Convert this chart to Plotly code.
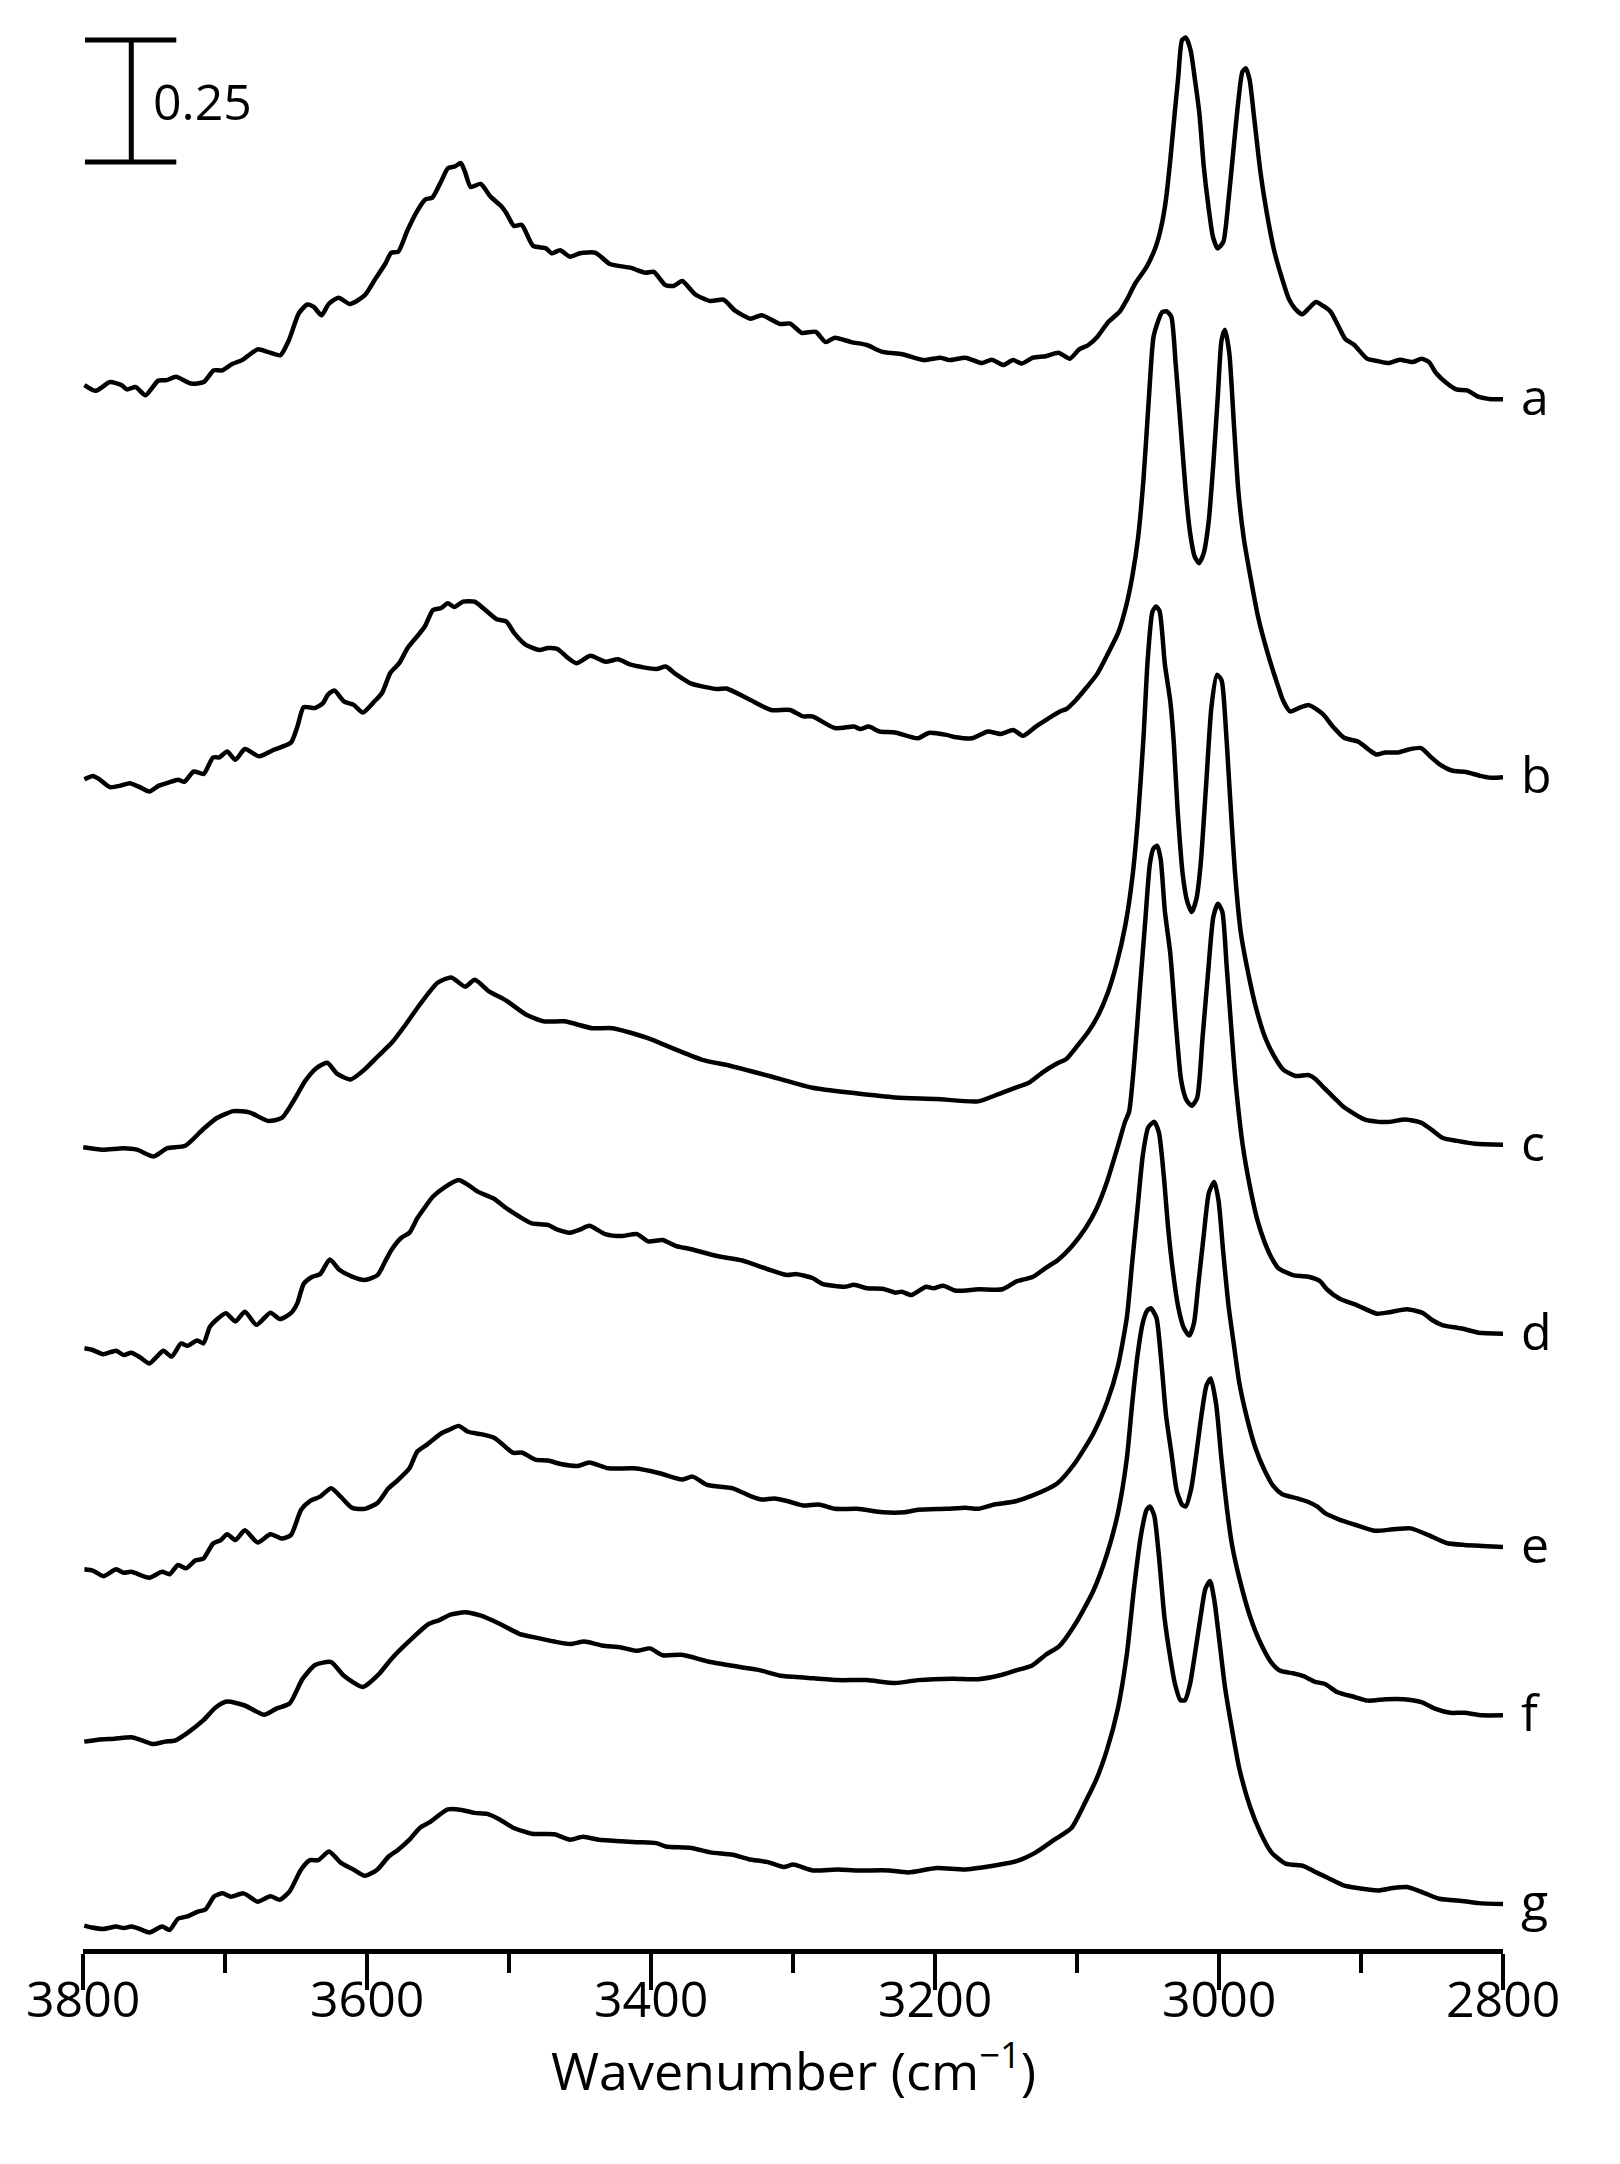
import plotly.graph_objects as go

# ---------------- data (wavenumber in cm^-1, absorbance relative to each trace's 2800 end) ----------------
labels = ["a", "b", "c", "d", "e", "f", "g"]
offsets = [3.176, 2.401, 1.648, 1.261, 0.824, 0.479, 0.092]

wn_a = [3799, 3791, 3781, 3773, 3769, 3763, 3756, 3747, 3741, 3734.5, 3724, 3715, 3708, 3702, 3695, 3688, 3677, 3670, 3661, 3655,
        3648, 3642, 3637.5, 3632, 3627, 3620, 3612, 3601.5, 3594, 3587, 3583, 3578, 3571.5, 3565, 3559, 3554, 3548, 3543, 3538, 3534,
        3531, 3527, 3520, 3513, 3505, 3502, 3496.5, 3491, 3483, 3474, 3470, 3464, 3457, 3450, 3439, 3429, 3414, 3404, 3398, 3390,
        3384, 3378, 3369, 3358, 3349, 3341, 3330, 3322, 3309, 3302, 3294, 3284, 3277, 3270.5, 3259, 3248, 3237, 3223, 3208, 3196,
        3190, 3178.5, 3167, 3160, 3152, 3145, 3139, 3131, 3122, 3113, 3105, 3098.5, 3092, 3085.6, 3078, 3070, 3065, 3059, 3051,
        3044.6, 3040.7, 3037.4, 3034.3, 3031, 3028.7, 3026, 3023.3, 3020, 3016.9, 3013.8, 3010.7, 3007.4, 3004.3, 3001, 2997,
        2993.3, 2989.4, 2986.3, 2983.5, 2981, 2978.4, 2975.3, 2970.7, 2966.3, 2961.2, 2956, 2950.9, 2946.6, 2941.4, 2936.8,
        2931.7, 2926.6, 2921.4, 2916.3, 2911.2, 2904.7, 2895.8, 2888, 2880.4, 2872.7, 2863.7, 2857.3, 2852.1, 2847, 2839.3,
        2832.9, 2825.2, 2817.5, 2808.5, 2800]
ab_a = [0.029, 0.017, 0.035, 0.029, 0.020, 0.025, 0.008, 0.038, 0.039, 0.046, 0.032, 0.035, 0.059, 0.059, 0.072, 0.080, 0.102, 0.097, 0.090, 0.121,
        0.176, 0.194, 0.189, 0.172, 0.195, 0.208, 0.195, 0.213, 0.247, 0.278, 0.300, 0.302, 0.346, 0.384, 0.409, 0.413, 0.445, 0.473, 0.477, 0.484,
        0.466, 0.435, 0.441, 0.415, 0.394, 0.382, 0.355, 0.357, 0.314, 0.309, 0.299, 0.305, 0.292, 0.299, 0.300, 0.277, 0.269, 0.259, 0.261, 0.234,
        0.232, 0.242, 0.215, 0.201, 0.204, 0.182, 0.165, 0.172, 0.154, 0.155, 0.136, 0.138, 0.117, 0.126, 0.117, 0.111, 0.097, 0.092, 0.080, 0.085,
        0.080, 0.085, 0.074, 0.081, 0.070, 0.080, 0.073, 0.085, 0.088, 0.095, 0.083, 0.102, 0.111, 0.128, 0.158, 0.179, 0.203, 0.237, 0.271,
        0.312, 0.353, 0.408, 0.490, 0.592, 0.660, 0.736, 0.741, 0.715, 0.654, 0.585, 0.476, 0.394, 0.333, 0.309, 0.322,
        0.408, 0.524, 0.613, 0.671, 0.678, 0.654, 0.578, 0.463, 0.381, 0.305, 0.251, 0.206, 0.186, 0.174, 0.186,
        0.199, 0.191, 0.179, 0.152, 0.124, 0.111, 0.083, 0.078, 0.074, 0.081, 0.076, 0.083, 0.076, 0.053, 0.032,
        0.020, 0.018, 0.005, 0.000, 0.000]

wn_b = [3799, 3793, 3788.4, 3781, 3773.5, 3767, 3760, 3753.3, 3746.6, 3740, 3733, 3728.6, 3722, 3715, 3708.4, 3704, 3698.5, 3692.7, 3686, 3676,
        3666, 3653.6, 3649, 3644.6, 3636.6, 3631, 3627.6, 3623, 3616, 3609.6, 3602.9, 3595, 3589.4, 3583.6, 3577.3, 3571.4, 3563.8, 3559.3, 3553.5,
        3547.7, 3543.2, 3538.6, 3532.4, 3524.3, 3517.5, 3508.6, 3501.8, 3496.4, 3488.4, 3478.5, 3472.6, 3465.9, 3459, 3452.4, 3442.6, 3432, 3423.2,
        3414.3, 3396.3, 3389.6, 3382.8, 3371.6, 3353.6, 3346.9, 3331, 3315.4, 3302, 3293, 3286.3, 3270.5, 3257, 3252.6, 3246.7, 3239, 3228, 3212,
        3204.5, 3192, 3185, 3174, 3162.8, 3153.8, 3144.8, 3138, 3129, 3120, 3112, 3107.5, 3101.2, 3093.6, 3086, 3078.5, 3070.9, 3065.4, 3060.8,
        3057, 3053.2, 3049.5, 3046.2, 3043.1, 3040.1, 3036.8, 3033.6, 3030.5, 3026.7, 3023.5, 3020.4, 3017.2, 3014.1, 3010.8, 3007.3, 3004,
        3000.8, 2998.2, 2995.7, 2992.7, 2989.6, 2986.4, 2982.6, 2977.5, 2972.5, 2966.2, 2959.9, 2954.8, 2949.8, 2944.7, 2936.6, 2927, 2919.5,
        2911.9, 2901.8, 2894.2, 2889.2, 2882.9, 2874, 2866.5, 2857.6, 2851.3, 2843.8, 2836.2, 2826.1, 2816, 2808.4, 2800]
ab_b = [-0.004, 0.003, -0.004, -0.020, -0.017, -0.012, -0.020, -0.029, -0.017, -0.011, -0.005, -0.009, 0.012, 0.007, 0.041, 0.041, 0.053, 0.036, 0.058, 0.043,
        0.056, 0.071, 0.104, 0.144, 0.142, 0.152, 0.169, 0.178, 0.155, 0.149, 0.133, 0.155, 0.173, 0.214, 0.234, 0.265, 0.292, 0.309, 0.343,
        0.347, 0.357, 0.349, 0.360, 0.360, 0.345, 0.324, 0.319, 0.296, 0.272, 0.261, 0.265, 0.263, 0.246, 0.234, 0.249, 0.237, 0.242,
        0.231, 0.222, 0.227, 0.212, 0.192, 0.181, 0.182, 0.160, 0.138, 0.138, 0.125, 0.125, 0.101, 0.104, 0.099, 0.104, 0.094, 0.092, 0.080,
        0.091, 0.087, 0.082, 0.080, 0.094, 0.089, 0.097, 0.085, 0.104, 0.121, 0.135, 0.140, 0.157, 0.183, 0.211, 0.252, 0.297, 0.351, 0.416,
        0.491, 0.610, 0.772, 0.901, 0.933, 0.953, 0.955, 0.944, 0.847, 0.707, 0.588, 0.502, 0.453, 0.439, 0.459, 0.523, 0.642,
        0.782, 0.896, 0.917, 0.868, 0.728, 0.588, 0.491, 0.405, 0.329, 0.259, 0.200, 0.157, 0.135, 0.141, 0.148, 0.130, 0.103,
        0.081, 0.073, 0.056, 0.047, 0.051, 0.051, 0.057, 0.060, 0.043, 0.025, 0.014, 0.011, 0.003, -0.001, 0.000]

wn_c = [3799.8, 3786.2, 3771.7, 3762, 3750.3, 3740.6, 3728, 3715.4, 3705.7, 3694, 3682.4, 3669.7, 3660, 3650.3, 3643.5, 3635.7, 3628, 3621.2,
        3611.5, 3601.8, 3592.1, 3582.3, 3572.6, 3562.9, 3550.3, 3540.6, 3530.9, 3524.1, 3514.4, 3501.7, 3488.1, 3475.5, 3461, 3441.5, 3427,
        3402.7, 3383.3, 3363.9, 3344.5, 3315.4, 3286.3, 3257.1, 3228, 3198.9, 3169.8, 3154.2, 3144.1, 3134, 3123.9, 3113.8, 3107.5, 3100,
        3092.4, 3084.8, 3078.5, 3072.2, 3065.9, 3060.8, 3057, 3053.2, 3050.2, 3046.9, 3044.4, 3041.9, 3038.1, 3034.3, 3031.8, 3029.3, 3025.5,
        3022.4, 3019.2, 3015.9, 3012.9, 3009.1, 3005.3, 3001.5, 2998.2, 2995.7, 2992.7, 2988.9, 2984.6, 2978.8, 2973.7, 2967.4, 2961.1,
        2954.8, 2946, 2937.1, 2932.1, 2925.8, 2917, 2912.8, 2897.7, 2887.6, 2880.1, 2868.7, 2857.4, 2849.9, 2842.3, 2832.3, 2819.7, 2800]
ab_c = [-0.005, -0.010, -0.007, -0.010, -0.024, -0.007, -0.002, 0.032, 0.055, 0.069, 0.066, 0.049, 0.055, 0.097, 0.131, 0.157, 0.168, 0.146,
        0.134, 0.154, 0.182, 0.210, 0.247, 0.287, 0.332, 0.343, 0.324, 0.338, 0.315, 0.295, 0.267, 0.253, 0.253, 0.239, 0.239,
        0.219, 0.196, 0.174, 0.162, 0.140, 0.117, 0.106, 0.097, 0.094, 0.089, 0.105, 0.116, 0.127, 0.149, 0.167, 0.176, 0.202,
        0.230, 0.267, 0.310, 0.370, 0.451, 0.553, 0.672, 0.833, 0.995, 1.092, 1.103, 1.094, 0.984, 0.909, 0.823, 0.693, 0.553,
        0.499, 0.477, 0.504, 0.575, 0.736, 0.898, 0.963, 0.952, 0.877, 0.736, 0.564, 0.434, 0.343, 0.278, 0.219, 0.181,
        0.154, 0.141, 0.143, 0.135, 0.116, 0.091, 0.079, 0.052, 0.047, 0.047, 0.052, 0.045, 0.030, 0.014, 0.008, 0.002, 0.000]

wn_d = [3799, 3793.7, 3785.7, 3776.7, 3771.3, 3766, 3760, 3753.3, 3748, 3743.4, 3737.6, 3730.9, 3726.4, 3719.6, 3715.2, 3710.7, 3706.2, 3699.4,
        3692.7, 3686, 3677.9, 3668, 3661.3, 3653.6, 3649.1, 3644.6, 3638.8, 3633, 3626.2, 3619.5, 3610.5, 3601.5, 3592.6, 3587.2, 3582.7, 3576,
        3570.1, 3564.7, 3560.2, 3553.5, 3545.4, 3535.5, 3528.8, 3522, 3510.8, 3501.8, 3492.8, 3483.9, 3472.6, 3465.9, 3456.9, 3450.2, 3443.4,
        3432.2, 3421, 3409.8, 3402.1, 3391.8, 3382.8, 3371.6, 3353.6, 3335.7, 3317.7, 3304.2, 3297.5, 3286.3, 3279.5, 3263.8, 3257, 3248,
        3236.9, 3227.9, 3223.4, 3216.7, 3206.3, 3201, 3194.2, 3185.2, 3169.5, 3152.4, 3142.6, 3131.3, 3122.4, 3113.4, 3103.9, 3093.8, 3086.3,
        3078.8, 3071.2, 3066.2, 3063.3, 3059.5, 3055.8, 3052, 3048.7, 3046.2, 3043.6, 3041.1, 3038.1, 3034.3, 3030.5, 3026.7, 3023, 3019.2,
        3015.4, 3011.6, 3007.8, 3004, 3000.8, 2997.7, 2994.7, 2991.4, 2988.1, 2983.2, 2978.2, 2973.1, 2968.1, 2963.1, 2958.1, 2948, 2937.9,
        2929.1, 2924.1, 2915.3, 2902.7, 2888.9, 2880.1, 2867.5, 2856.2, 2849.9, 2842.3, 2829.8, 2817.2, 2800]
ab_d = [-0.030, -0.033, -0.042, -0.035, -0.044, -0.039, -0.048, -0.061, -0.047, -0.035, -0.047, -0.020, -0.025, -0.014, -0.020, 0.014, 0.028, 0.042,
        0.025, 0.045, 0.018, 0.043, 0.030, 0.042, 0.062, 0.102, 0.116, 0.122, 0.152, 0.131, 0.117, 0.110, 0.120, 0.148, 0.172, 0.196,
        0.207, 0.236, 0.255, 0.281, 0.300, 0.315, 0.305, 0.291, 0.277, 0.257, 0.240, 0.226, 0.223, 0.213, 0.207, 0.213, 0.221,
        0.204, 0.200, 0.204, 0.189, 0.192, 0.180, 0.173, 0.159, 0.150, 0.132, 0.120, 0.122, 0.114, 0.102, 0.096, 0.100, 0.093,
        0.092, 0.084, 0.086, 0.079, 0.096, 0.093, 0.098, 0.088, 0.091, 0.091, 0.107, 0.116, 0.134, 0.151, 0.178, 0.217, 0.256,
        0.312, 0.384, 0.434, 0.455, 0.563, 0.703, 0.843, 0.962, 0.994, 1.000, 0.973, 0.865, 0.779, 0.639, 0.520, 0.479, 0.467,
        0.483, 0.606, 0.736, 0.854, 0.881, 0.865, 0.757, 0.628, 0.509, 0.384, 0.301, 0.234, 0.189, 0.156, 0.134, 0.120, 0.117,
        0.108, 0.091, 0.072, 0.058, 0.041, 0.044, 0.050, 0.042, 0.028, 0.017, 0.011, 0.002, 0.000]

wn_e = [3799, 3792.8, 3785.7, 3776.7, 3771.3, 3766, 3753.3, 3744.3, 3739, 3733.1, 3727.3, 3721, 3715.2, 3708.4, 3703, 3698.5, 3692.7, 3686, 3677,
        3668, 3659.9, 3653.6, 3646.4, 3640.2, 3633, 3625.3, 3618.6, 3610.5, 3601.5, 3592.6, 3584.9, 3578.2, 3570.1, 3564.7, 3558, 3547.6, 3541.3,
        3535.5, 3528.8, 3519.8, 3510.8, 3504, 3497.4, 3490.6, 3481.6, 3472.6, 3463.7, 3451.5, 3443.4, 3430, 3412, 3394, 3378.3, 3370.7, 3360.4,
        3342.4, 3328.9, 3322.2, 3313.2, 3304.2, 3293, 3281.8, 3270.5, 3254.8, 3236.9, 3221.2, 3212.1, 3192, 3178.5, 3169.5, 3158.3, 3144.1,
        3131.6, 3114, 3101.4, 3088.8, 3078.8, 3071.2, 3064.9, 3061.2, 3057.4, 3053.6, 3049.8, 3045.6, 3042.3, 3038.5, 3036, 3032.2, 3028.4,
        3024.7, 3020.9, 3017.6, 3014.6, 3010.8, 3007.1, 3003.3, 3000.3, 2997, 2993.2, 2989.5, 2985.7, 2980.7, 2974.4, 2968.1, 2961.8, 2955.5,
        2945.5, 2937.9, 2930.4, 2925.3, 2915.3, 2902.7, 2890.1, 2877.6, 2865, 2852.4, 2839.8, 2827.3, 2814.7, 2800]
ab_e = [-0.046, -0.049, -0.060, -0.046, -0.053, -0.051, -0.063, -0.051, -0.056, -0.037, -0.044, -0.028, -0.024, 0.007, 0.014, 0.026, 0.014, 0.034, 0.009,
        0.026, 0.017, 0.024, 0.076, 0.094, 0.103, 0.120, 0.103, 0.080, 0.078, 0.090, 0.120, 0.137, 0.161, 0.195, 0.209, 0.233, 0.241,
        0.248, 0.236, 0.231, 0.224, 0.209, 0.193, 0.193, 0.179, 0.177, 0.170, 0.166, 0.173, 0.161, 0.161, 0.151, 0.138, 0.144, 0.127,
        0.120, 0.103, 0.097, 0.099, 0.094, 0.085, 0.087, 0.078, 0.078, 0.071, 0.071, 0.076, 0.078, 0.080, 0.078, 0.087, 0.093,
        0.105, 0.130, 0.172, 0.231, 0.297, 0.370, 0.470, 0.581, 0.693, 0.804, 0.860, 0.871, 0.849, 0.748, 0.659, 0.559, 0.487,
        0.448, 0.433, 0.459, 0.537, 0.637, 0.726, 0.748, 0.709, 0.603, 0.492, 0.414, 0.336, 0.269, 0.203, 0.158, 0.125, 0.108,
        0.100, 0.093, 0.082, 0.069, 0.056, 0.044, 0.033, 0.036, 0.038, 0.024, 0.008, 0.004, 0.002, 0.000]

wn_f = [3799.1, 3789.3, 3778, 3765.9, 3760, 3751, 3742.1, 3735.4, 3726.4, 3715.2, 3706.2, 3698.5, 3686, 3672.5, 3663.5, 3654.5, 3645.5, 3636.6,
        3625.3, 3616.3, 3602.9, 3591.7, 3582.7, 3569.2, 3556.6, 3549, 3541.3, 3531, 3519.8, 3506.3, 3492.8, 3479.4, 3468.1, 3456.9, 3447.1,
        3434.5, 3421, 3409.8, 3400.8, 3391.8, 3378.3, 3358.1, 3335.7, 3324.4, 3308.7, 3290.8, 3268.3, 3248.1, 3227.9, 3212.1, 3187.5, 3169.5,
        3154.2, 3144.1, 3131.6, 3121.5, 3112.7, 3101.4, 3088.8, 3078.8, 3071.2, 3064.9, 3061.2, 3057.4, 3053.6, 3050.6, 3048, 3044.1, 3041,
        3037.3, 3033.5, 3029.7, 3025.9, 3023.4, 3019.6, 3015.9, 3012.1, 3008.8, 3005.8, 3002, 2998.3, 2994.5, 2990.7, 2985.7, 2978.2, 2970.6,
        2963.1, 2956.8, 2948, 2940.4, 2932.9, 2925.3, 2916.5, 2905.2, 2895.2, 2882.6, 2870, 2857.4, 2847.4, 2837.3, 2827.3, 2814.7, 2800]
ab_f = [-0.054, -0.050, -0.048, -0.045, -0.050, -0.059, -0.054, -0.052, -0.036, -0.010, 0.017, 0.028, 0.020, 0.001, 0.014, 0.024, 0.074, 0.103,
        0.109, 0.081, 0.058, 0.084, 0.116, 0.155, 0.187, 0.195, 0.206, 0.211, 0.204, 0.187, 0.167, 0.158, 0.151, 0.146, 0.151,
        0.143, 0.139, 0.132, 0.137, 0.123, 0.124, 0.109, 0.098, 0.093, 0.081, 0.077, 0.072, 0.072, 0.066, 0.072, 0.075, 0.074,
        0.082, 0.091, 0.102, 0.125, 0.141, 0.186, 0.253, 0.331, 0.414, 0.526, 0.637, 0.737, 0.805, 0.829, 0.834, 0.815, 0.737,
        0.615, 0.537, 0.459, 0.431, 0.428, 0.464, 0.537, 0.620, 0.676, 0.690, 0.637, 0.526, 0.425, 0.347, 0.281, 0.203, 0.147,
        0.108, 0.091, 0.086, 0.080, 0.069, 0.064, 0.047, 0.038, 0.030, 0.033, 0.033, 0.027, 0.013, 0.005, 0.005, 0.000, 0.000]

wn_g = [3799.1, 3793.7, 3785.7, 3776.7, 3771.3, 3766, 3760, 3753.3, 3744.3, 3739, 3733.1, 3726.4, 3719.6, 3713.8, 3707.5, 3701.7, 3695.8, 3686.9,
        3677, 3668, 3661.3, 3654.5, 3646.4, 3640.2, 3634.3, 3626.7, 3618.6, 3609.6, 3601.5, 3592.6, 3584.9, 3578.2, 3570.1, 3562.5, 3555.7,
        3543.1, 3533.3, 3524.3, 3515.3, 3506.3, 3497.4, 3483.9, 3468.1, 3456.9, 3447.9, 3436.7, 3421, 3409.8, 3396.3, 3389.6, 3371.6, 3358.1,
        3342.4, 3331.2, 3317.7, 3306.5, 3299.8, 3286.3, 3268.3, 3254.8, 3232.4, 3218.9, 3198.7, 3178.5, 3156.1, 3141.6, 3129, 3116.5, 3103.9,
        3093.8, 3086.3, 3078.8, 3071.2, 3064.9, 3059.9, 3054.9, 3051.1, 3048.6, 3045.6, 3042.3, 3038.5, 3034.7, 3031, 3027.2, 3023.9, 3020.4,
        3016.4, 3012.9, 3009.6, 3006.3, 3003.3, 2999.5, 2995.8, 2990.7, 2985.7, 2978.2, 2970.6, 2963.1, 2953.1, 2940.4, 2932.9, 2922.8,
        2912.8, 2902.7, 2887.6, 2877.6, 2867.5, 2854.9, 2844.9, 2827.3, 2817.2, 2800]
ab_g = [-0.044, -0.048, -0.051, -0.046, -0.049, -0.046, -0.051, -0.058, -0.046, -0.053, -0.030, -0.025, -0.016, -0.011, 0.016, 0.022, 0.015, 0.022,
        0.005, 0.016, 0.009, 0.026, 0.071, 0.090, 0.090, 0.108, 0.085, 0.071, 0.058, 0.071, 0.097, 0.111, 0.132, 0.157, 0.168,
        0.194, 0.193, 0.187, 0.185, 0.173, 0.157, 0.144, 0.143, 0.132, 0.138, 0.132, 0.129, 0.127, 0.125, 0.118, 0.115, 0.106,
        0.101, 0.092, 0.086, 0.076, 0.081, 0.069, 0.071, 0.069, 0.069, 0.065, 0.074, 0.071, 0.080, 0.089, 0.106, 0.131, 0.156,
        0.211, 0.256, 0.317, 0.401, 0.512, 0.646, 0.757, 0.807, 0.815, 0.796, 0.713, 0.590, 0.512, 0.451, 0.418, 0.418, 0.451,
        0.523, 0.590, 0.646, 0.662, 0.623, 0.534, 0.445, 0.356, 0.278, 0.200, 0.145, 0.106, 0.083, 0.078, 0.067, 0.053,
        0.039, 0.033, 0.028, 0.033, 0.035, 0.022, 0.011, 0.006, 0.002, 0.000]

wavenumbers = [wn_a, wn_b, wn_c, wn_d, wn_e, wn_f, wn_g]
absorbances = [ab_a, ab_b, ab_c, ab_d, ab_e, ab_f, ab_g]

x_ticks = [3800, 3600, 3400, 3200, 3000, 2800]
x_tick_labels = ["3800", "3600", "3400", "3200", "3000", "2800"]
scale_bar_value = 0.25
scale_bar_label = "0.25"
x_title = "Wavenumber (cm<sup>\u22121</sup>)"

# ---------------- figure ----------------
FONT = "Open Sans, Noto Sans, DejaVu Sans, sans-serif"
fig = go.Figure()

for wn, ab, off in zip(wavenumbers, absorbances, offsets):
    fig.add_trace(go.Scatter(
        x=wn, y=[v + off for v in ab], mode="lines",
        line=dict(color="black", width=4.5, shape="spline", smoothing=0.6),
        showlegend=False, hoverinfo="skip"))

# trace labels at the right end
for lab, wn, ab, off in zip(labels, wavenumbers, absorbances, offsets):
    fig.add_annotation(x=wn[-1], y=ab[-1] + off, text=lab, showarrow=False,
                       xanchor="left", yanchor="middle", xshift=16, yshift=3,
                       font=dict(family=FONT, size=50, color="black"))

# scale bar (0.25 absorbance units)
sb_x_left, sb_x_right, sb_x_mid = 3798.6, 3734.3, 3766.0
sb_y0 = 3.662
sb_y1 = sb_y0 + scale_bar_value
line_style = dict(color="black", width=5)
fig.add_shape(type="line", x0=sb_x_mid, x1=sb_x_mid, y0=sb_y0, y1=sb_y1, line=line_style, xref="x", yref="y")
fig.add_shape(type="line", x0=sb_x_left, x1=sb_x_right, y0=sb_y0, y1=sb_y0, line=line_style, xref="x", yref="y")
fig.add_shape(type="line", x0=sb_x_left, x1=sb_x_right, y0=sb_y1, y1=sb_y1, line=line_style, xref="x", yref="y")
fig.add_annotation(x=3752, y=(sb_y0 + sb_y1) / 2, text=scale_bar_label, showarrow=False,
                   xanchor="left", yanchor="middle", font=dict(family=FONT, size=50, color="black"))

# x tick labels (placed explicitly for exact spacing below the axis)
for tv, tl in zip(x_ticks, x_tick_labels):
    fig.add_annotation(x=tv, y=-0.0254, xref="x", yref="paper", text=tl, showarrow=False,
                       xanchor="center", yanchor="middle", font=dict(family=FONT, size=50, color="black"))

# axis title
fig.add_annotation(x=0.5, y=-0.0612, xref="paper", yref="paper", text=x_title, showarrow=False,
                   xanchor="center", yanchor="middle", font=dict(family=FONT, size=52, color="black"))

# the page body has an 8 px default margin, so the figure is sized/positioned to compensate
fig.update_layout(
    width=1604, height=2148,
    margin=dict(l=75, r=109, t=12, b=207),
    paper_bgcolor="white", plot_bgcolor="white",
    font=dict(family=FONT, color="black"),
    xaxis=dict(range=[3800, 2800], showgrid=False, zeroline=False,
               showline=True, linecolor="black", linewidth=5,
               ticks="outside", ticklen=36, tickwidth=4, tickcolor="black",
               tickmode="array", tickvals=x_ticks, showticklabels=False,
               minor=dict(dtick=100, ticks="outside", ticklen=19, tickwidth=4, tickcolor="black", showgrid=False)),
    yaxis=dict(range=[0, 3.953], visible=False, showgrid=False, zeroline=False),
)

fig.write_html("out.html")
